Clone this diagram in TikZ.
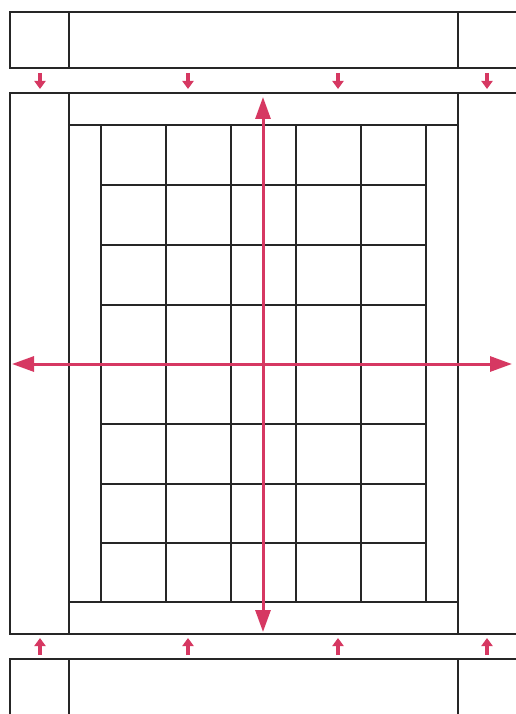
\documentclass[tikz,border=0pt]{standalone}
\usetikzlibrary{arrows.meta}
\definecolor{accent}{HTML}{D63862}
\begin{document}
\begin{tikzpicture}[x=1pt,y=-1pt,
  frame/.style={draw=black!85, line width=1.3pt},
  bigarrow/.style={draw=accent, line width=3pt, {Triangle[length=22pt,width=15pt]}-{Triangle[length=22pt,width=15pt]}},
  smallarrow/.style={draw=accent, line width=3.8pt, -{Triangle[length=8pt,width=11pt]}}]
\useasboundingbox (0,0) rectangle (516,714);
\begin{scope}
\clip (0,0) rectangle (516,714);
% top strip
\draw[frame] (10,12) rectangle (540,68);
\draw[frame] (69,12) -- (69,68) (458,12) -- (458,68);
% bottom strip
\draw[frame] (10,659) rectangle (540,740);
\draw[frame] (69,659) -- (69,714) (458,659) -- (458,714);
% main frame
\draw[frame] (10,93) rectangle (540,634);
\draw[frame] (69,93) -- (69,634) (458,93) -- (458,634);
\draw[frame] (69,125) -- (458,125) (69,602) -- (458,602);
% grid
\foreach \i in {0,...,5} {\draw[frame] ({101+65*\i},125) -- ({101+65*\i},602);}
\foreach \y in {125,185,245,305,364,424,484,543,602} {\draw[frame] (101,\y) -- (426,\y);}
\end{scope}
% small arrows
\foreach \x in {40,188,338,487} {
  \coordinate (t\x) at (\x,73); \coordinate (tb\x) at (\x,89);
  \draw[smallarrow] (t\x) -- (tb\x);
  \coordinate (b\x) at (\x,655); \coordinate (bb\x) at (\x,638);
  \draw[smallarrow] (b\x) -- (bb\x);
}
% big arrows
\coordinate (vtop) at (263,97); \coordinate (vbot) at (263,632);
\coordinate (hl) at (12,364); \coordinate (hr) at (512,364);
\draw[bigarrow] (vbot) -- (vtop);
\draw[bigarrow] (hl) -- (hr);
\end{tikzpicture}
\end{document}
